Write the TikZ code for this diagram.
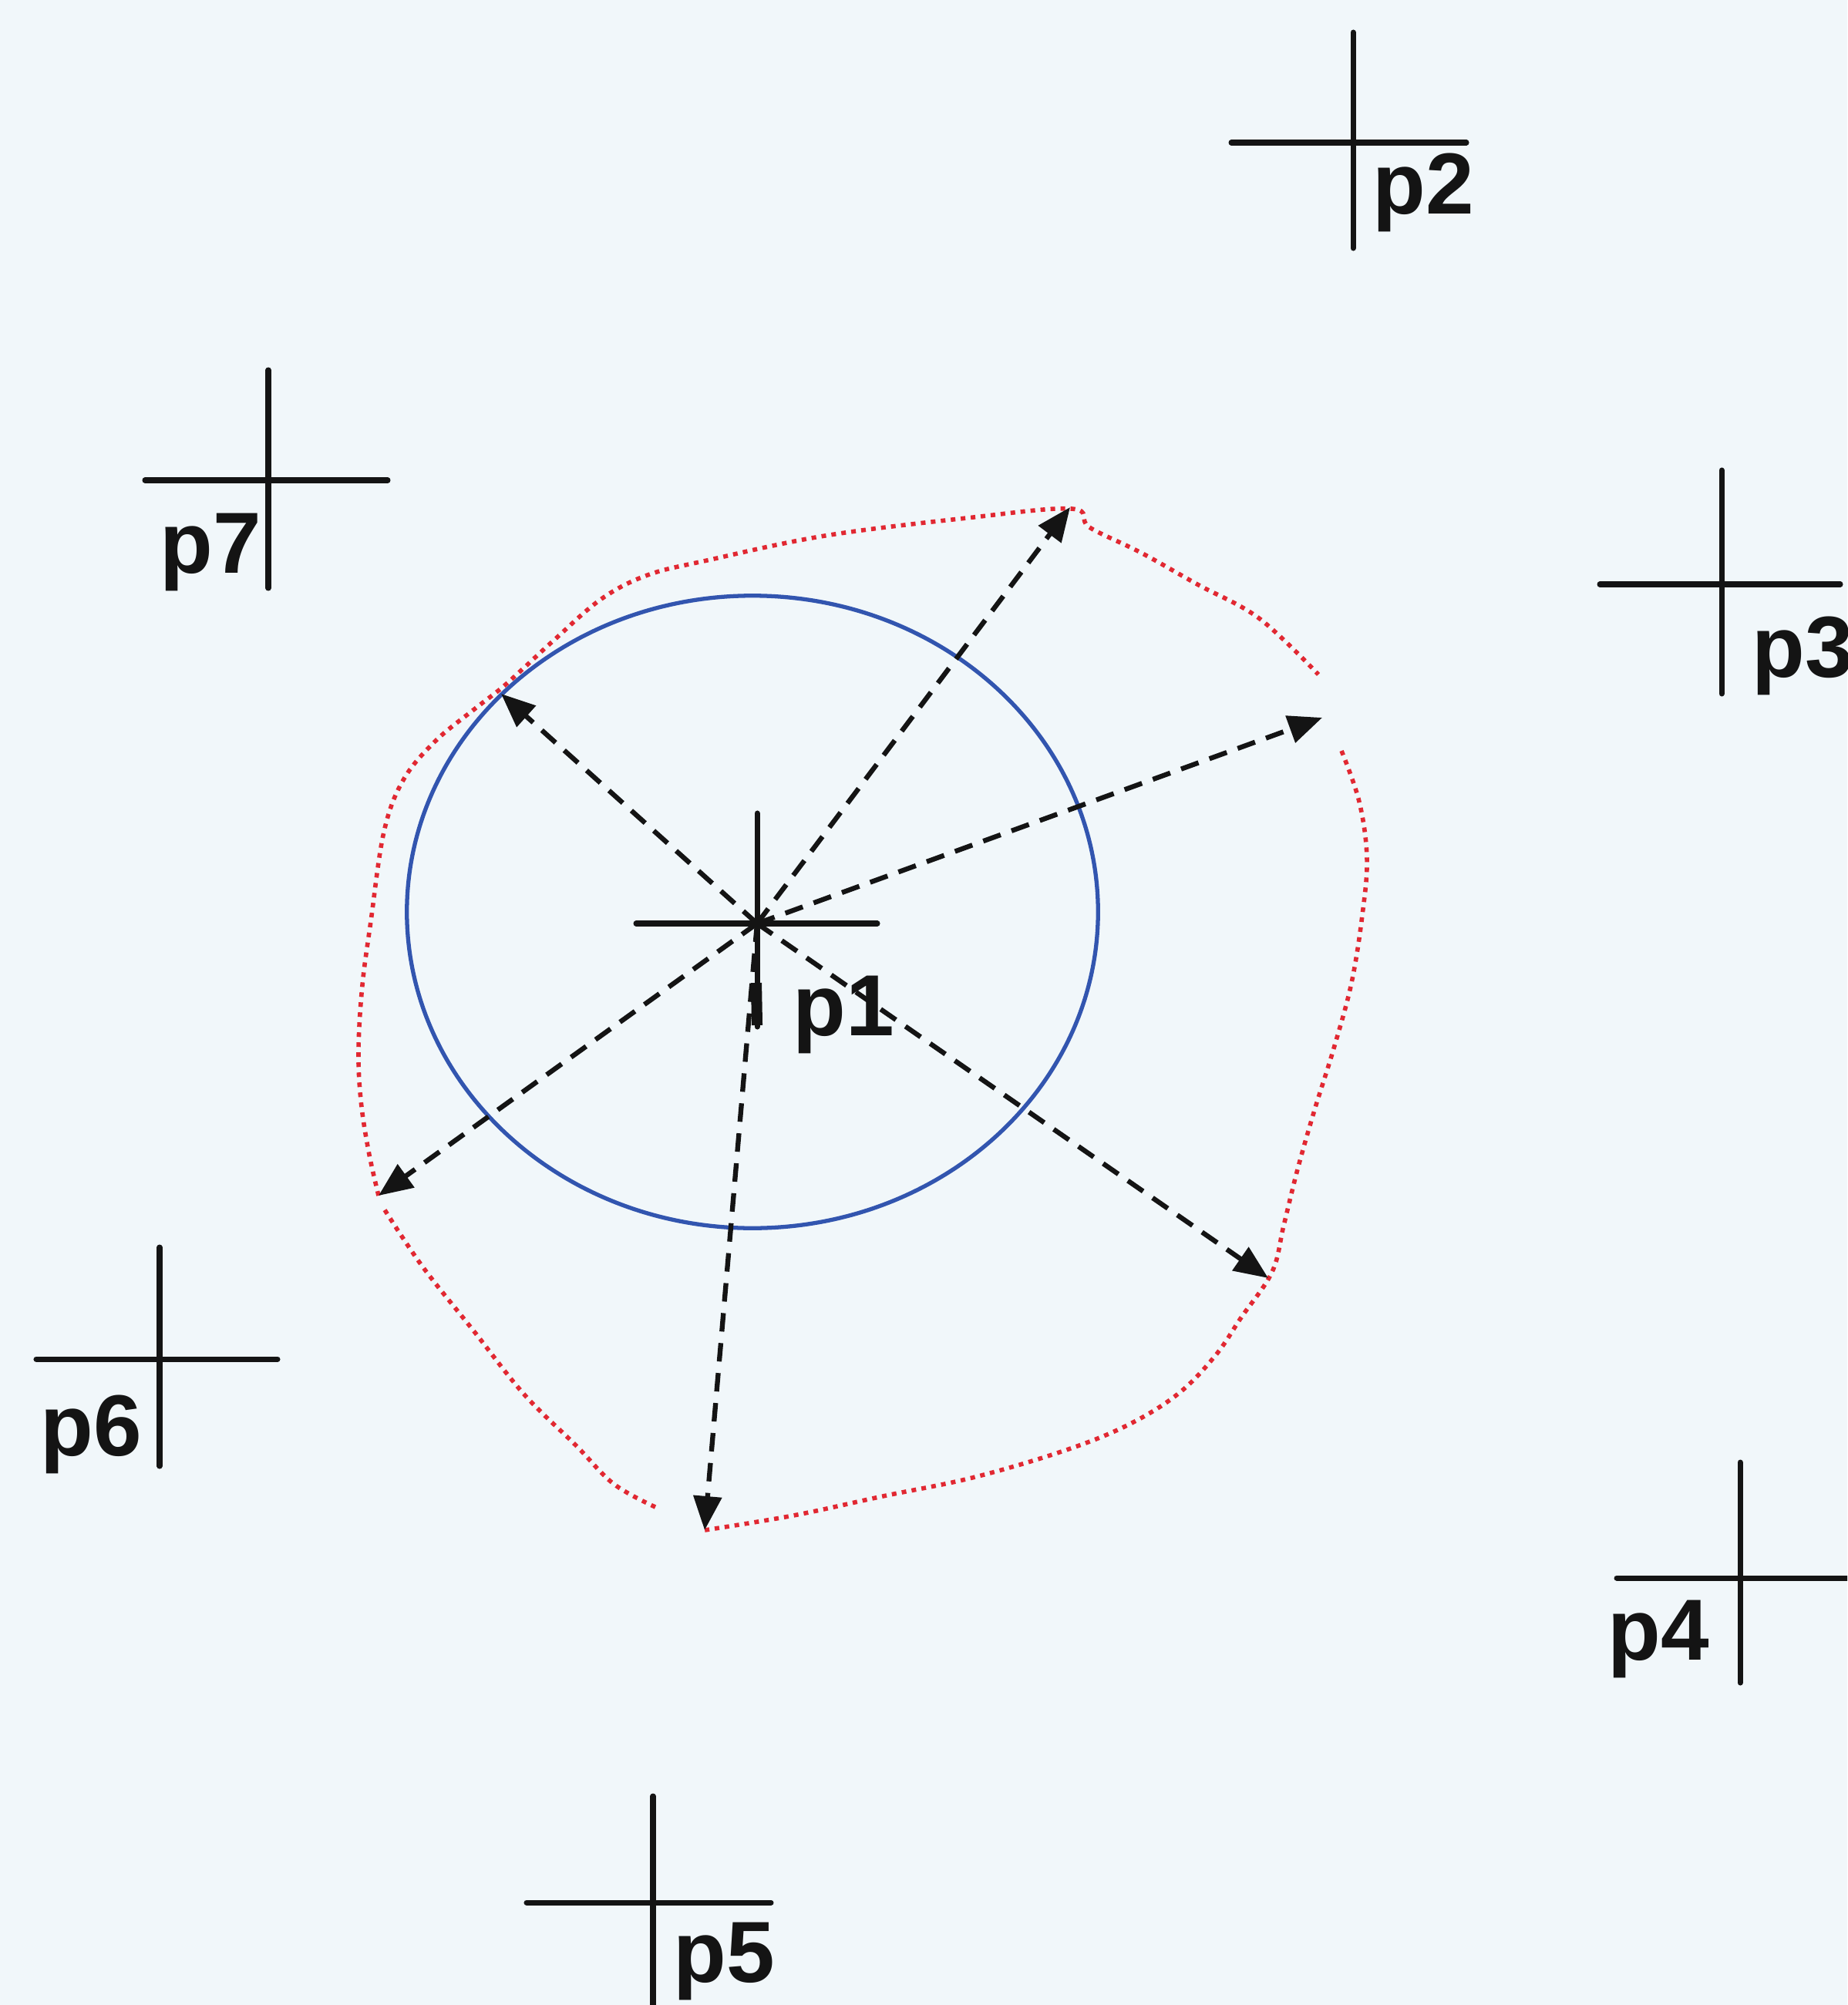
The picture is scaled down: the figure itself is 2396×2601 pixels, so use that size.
\documentclass[tikz,border=0pt]{standalone}
\usepackage{fontspec}
\setmainfont{Liberation Sans}
\usetikzlibrary{arrows.meta}
\definecolor{bg}{RGB}{241,247,250}
\definecolor{ink}{RGB}{20,20,20}
\definecolor{circblue}{RGB}{50,85,175}
\definecolor{dotred}{RGB}{225,40,50}
\begin{document}
\begin{tikzpicture}[x=0.01cm,y=-0.01cm,
  crossline/.style={draw=ink,line width=2pt,line cap=round},
  lbl/.style={font=\fontsize{32}{32}\selectfont\bfseries,text=ink,inner sep=0pt,anchor=base west},
  ray/.style={draw=ink,line width=1.8pt,dash pattern=on 0.24cm off 0.15cm,-{Triangle[length=0.44cm,width=0.36cm]}},
  bound/.style={draw=dotred,line width=1.6pt,dash pattern=on 0.06cm off 0.07cm},
  circ/.style={draw=circblue,line width=1.5pt}]
\fill[bg] (0,0) rectangle (2396,2601);
\useasboundingbox (0,0) rectangle (2396,2601);
\clip (0,0) rectangle (2396,2601);

% cross centres
\coordinate (p1) at (982,1198);
\coordinate (p2) at (1755,185);
\coordinate (p3) at (2233,758);
\coordinate (p4) at (2257,2047);
\coordinate (p5) at (847,2468);
\coordinate (p6) at (207,1763);
\coordinate (p7) at (348,623);

% blue circle
\draw[circ] (976,1183) ellipse [x radius=4.48cm, y radius=4.10cm];

% red boundary
\draw[bound] plot[smooth,tension=0.6] coordinates {(491,1551)(478,1493)(468,1427)(465,1361)(470,1278)(481,1195)(498,1079)(523,1012)(564,962)(614,921)(650,893)(680,866)(719,830)(780,777)(840,746)(917,727)(1070,695)(1254,672)(1390,660)(1413,684)(1480,717)(1553,758)(1633,802)(1710,875)};
\draw[bound] plot[smooth,tension=0.6] coordinates {(1740,974)(1763,1040)(1773,1113)(1767,1187)(1753,1275)(1730,1360)(1705,1440)(1683,1517)(1665,1590)(1650,1650)(1610,1709)(1576,1759)(1527,1809)(1460,1850)(1377,1883)(1261,1917)(1145,1941)(1029,1966)(914,1985)};
\draw[bound] plot[smooth,tension=0.6] coordinates {(850,1955)(796,1925)(747,1875)(680,1809)(614,1726)(548,1643)(498,1568)};

% crosses
\draw[crossline] (825,1198) -- (1138,1198);
\draw[crossline] (982,1055) -- (982,1332);
\draw[ink,line width=4pt] (981,1275) -- (982,1330);
\draw[crossline] (1597,185) -- (1902,185);
\draw[crossline] (1755,42) -- (1755,322);
\draw[crossline] (2075,758) -- (2387,758);
\draw[crossline] (2233,610) -- (2233,900);
\draw[crossline] (2097,2047) -- (2410,2047);
\draw[crossline] (2257,1897) -- (2257,2183);
\draw[crossline] (683,2468) -- (1000,2468);
\draw[crossline] (847,2330) -- (847,2620);
\draw[crossline] (47,1763) -- (360,1763);
\draw[crossline] (207,1618) -- (207,1902);
\draw[crossline] (188,623) -- (503,623);
\draw[crossline] (348,480) -- (348,763);

% labels
\node[lbl] (l1) at (1028,1343) {p1};
\node[lbl] (l2) at (1780,278) {p2};
\node[lbl] (l3) at (2272,878) {p3};
\node[lbl] (l4) at (2085,2153) {p4};
\node[lbl] (l5) at (873,2571) {p5};
\node[lbl] (l6) at (52,1888) {p6};
\node[lbl] (l7) at (207,743) {p7};

% rays
\coordinate (e1) at (650,900);
\coordinate (e2) at (1388,658);
\coordinate (e3) at (1715,931);
\coordinate (e4) at (1645,1658);
\coordinate (e5) at (914,1985);
\coordinate (e6) at (491,1551);
\draw[ray] (p1) -- (e1);
\draw[ray] (p1) -- (e2);
\draw[ray] (p1) -- (e3);
\draw[ray] (p1) -- (e4);
\draw[ray] (p1) -- (e5);
\draw[ray] (p1) -- (e6);
\end{tikzpicture}
\end{document}
